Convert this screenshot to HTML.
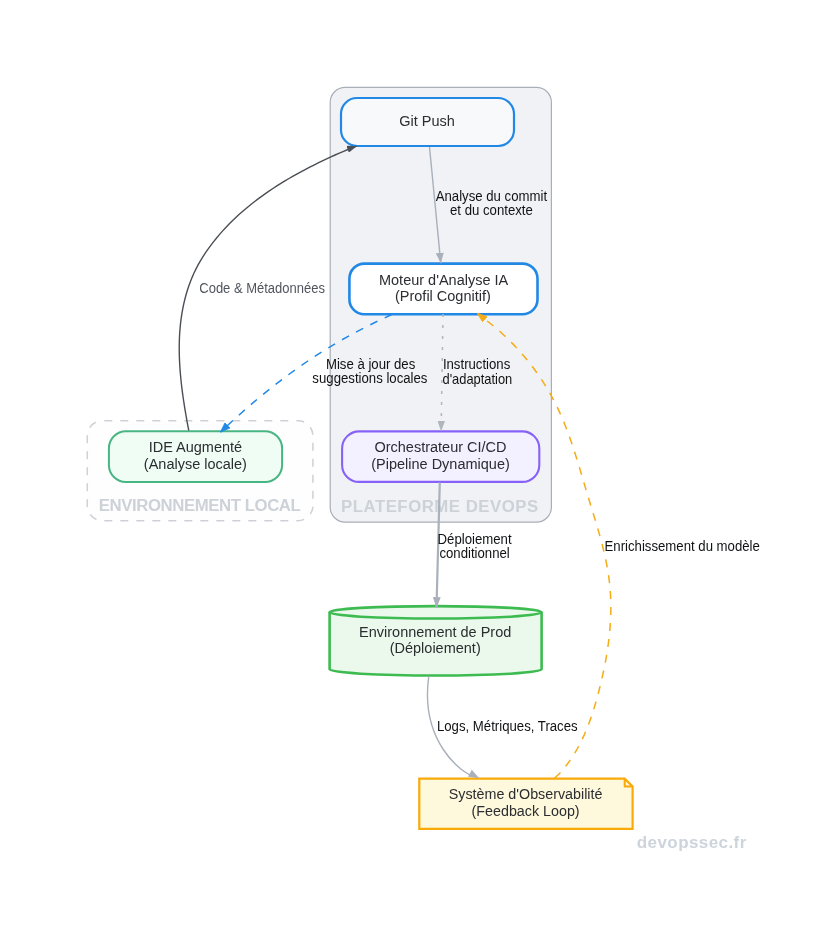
<!DOCTYPE html>
<html><head><meta charset="utf-8">
<style>
html,body{margin:0;padding:0;background:#ffffff;}
svg{display:block;will-change:transform;}
text{font-family:"Liberation Sans",sans-serif;}
.n{font-size:14.5px;fill:#2b2d31;text-anchor:middle;}
.l{font-size:13.2px;fill:#111214;text-anchor:middle;}
.c{font-size:16px;font-weight:bold;fill:#cdd2d9;}
</style></head>
<body>
<svg width="836" height="935" viewBox="0 0 836 935">
<defs>
<marker id="mg" viewBox="0 0 10 10" refX="10" refY="5" markerUnits="userSpaceOnUse" markerWidth="10.5" markerHeight="8" preserveAspectRatio="none" orient="auto"><path d="M0,0 L10,5 L0,10 z" fill="#a9b0ba"/></marker>
<marker id="mg2" viewBox="0 0 10 10" refX="10" refY="5" markerUnits="userSpaceOnUse" markerWidth="10.5" markerHeight="7.4" preserveAspectRatio="none" orient="auto"><path d="M0,0 L10,5 L0,10 z" fill="#b0b6be"/></marker>
<marker id="md" viewBox="0 0 10 10" refX="10" refY="5" markerUnits="userSpaceOnUse" markerWidth="9.5" markerHeight="7.2" preserveAspectRatio="none" orient="auto"><path d="M0,0 L10,5 L0,10 z" fill="#4a4e55"/></marker>
<marker id="mb" viewBox="0 0 10 10" refX="10" refY="5" markerUnits="userSpaceOnUse" markerWidth="10" markerHeight="7.4" preserveAspectRatio="none" orient="auto"><path d="M0,0 L10,5 L0,10 z" fill="#2288e6" stroke="#2288e6" stroke-width="0.8" stroke-linejoin="round"/></marker>
<marker id="mo" viewBox="0 0 10 10" refX="10" refY="5" markerUnits="userSpaceOnUse" markerWidth="10" markerHeight="7.2" preserveAspectRatio="none" orient="auto"><path d="M0,0 L10,5 L0,10 z" fill="#f5ab16" stroke="#f5ab16" stroke-width="0.8" stroke-linejoin="round"/></marker>
</defs>

<!-- clusters -->
<rect x="330.2" y="87.4" width="221.2" height="434.7" rx="15" ry="15" fill="#f1f2f5" stroke="#a8afb8" stroke-width="1.2"/>
<rect x="87.3" y="420.7" width="225.6" height="100" rx="15" ry="15" fill="#fefefe" stroke="#cdd1d7" stroke-width="1.5" stroke-dasharray="8 8" stroke-dashoffset="-2"/>
<text class="c" x="341.1" y="512.1" textLength="197" style="font-size:16.8px" lengthAdjust="spacing">PLATEFORME DEVOPS</text>
<text class="c" x="98.8" y="511.1" textLength="202" style="font-size:16.8px" lengthAdjust="spacing">ENVIRONNEMENT LOCAL</text>

<!-- nodes -->
<rect x="341" y="98" width="173" height="48" rx="16" ry="16" fill="#f8f9fb" stroke="#2288e6" stroke-width="2.2"/>
<text class="n" x="427.1" y="119.714" transform="scale(1,1.05)">Git Push</text>

<rect x="349.4" y="263.6" width="188.1" height="50.6" rx="15" ry="15" fill="#ffffff" stroke="#2288e6" stroke-width="2.6"/>
<text class="n" x="443.6" y="271.238" transform="scale(1,1.05)">Moteur d'Analyse IA</text>
<text class="n" x="442.9" y="286.571" transform="scale(1,1.05)">(Profil Cognitif)</text>

<rect x="342.1" y="431.4" width="197.2" height="50.5" rx="17" ry="17" fill="#f3f0ff" stroke="#8662f8" stroke-width="2.1"/>
<text class="n" x="440.5" y="430.571" transform="scale(1,1.05)">Orchestrateur CI/CD</text>
<text class="n" x="440.5" y="446.571" transform="scale(1,1.05)">(Pipeline Dynamique)</text>

<rect x="108.9" y="431.2" width="173.2" height="50.7" rx="17" ry="17" fill="#effdf4" stroke="#48b682" stroke-width="2.0"/>
<text class="n" x="195.4" y="430.762" transform="scale(1,1.05)">IDE Augmenté</text>
<text class="n" x="195.4" y="446.762" transform="scale(1,1.05)">(Analyse locale)</text>

<!-- cylinder -->
<path d="M329.6,612.3 A106,6.2 0 0 1 541.6,612.3 L541.6,669.3 A106,6.2 0 0 1 329.6,669.3 Z" fill="#eaf9ec" stroke="#3dbb50" stroke-width="2.6"/>
<path d="M329.6,612.3 A106,6.2 0 0 0 541.6,612.3" fill="none" stroke="#3dbb50" stroke-width="2.6"/>
<text class="n" x="435.2" y="606.286" transform="scale(1,1.05)">Environnement de Prod</text>
<text class="n" x="435.2" y="621.810" transform="scale(1,1.05)">(Déploiement)</text>

<!-- note -->
<path d="M419.3,778.6 L624.7,778.6 L632.6,786.5 L632.6,828.9 L419.3,828.9 Z" fill="#fef8dc" stroke="#f9aa08" stroke-width="2.2"/>
<path d="M624.7,778.6 L624.7,786.5 L632.6,786.5" fill="none" stroke="#f9aa08" stroke-width="2" stroke-linejoin="round"/>
<text class="n" x="525.6" y="761.048" transform="scale(1,1.05)" style="font-size:14.3px">Système d'Observabilité</text>
<text class="n" x="525.6" y="777.333" transform="scale(1,1.05)" style="font-size:14.3px">(Feedback Loop)</text>

<!-- edges -->
<path d="M188.80,430.50 L187.86,425.84 L187.03,421.31 L186.22,416.74 L185.44,412.16 L184.68,407.55 L183.95,402.91 L183.25,398.26 L182.60,393.60 L181.99,388.92 L181.43,384.22 L180.92,379.52 L180.48,374.80 L180.09,370.08 L179.77,365.36 L179.52,360.63 L179.34,355.90 L179.25,351.17 L179.24,346.45 L179.31,341.73 L179.48,337.02 L179.75,332.32 L180.12,327.62 L180.59,322.95 L181.18,318.28 L181.88,313.64 L182.70,309.01 L183.64,304.41 L184.71,299.84 L185.90,295.30 L187.23,290.80 L188.69,286.35 L190.28,281.95 L192.02,277.60 L193.90,273.32 L195.92,269.10 L198.09,264.96 L200.40,260.88 L202.83,256.88 L205.38,252.95 L208.04,249.09 L210.80,245.31 L213.65,241.59 L216.58,237.95 L219.60,234.37 L222.69,230.87 L225.86,227.43 L229.11,224.06 L232.43,220.76 L235.82,217.52 L239.27,214.35 L242.79,211.24 L246.37,208.19 L250.00,205.21 L253.69,202.28 L257.44,199.41 L261.24,196.61 L265.08,193.86 L268.97,191.16 L272.90,188.53 L276.87,185.94 L280.88,183.42 L284.92,180.94 L288.99,178.52 L293.09,176.14 L297.22,173.82 L301.38,171.55 L305.55,169.32 L309.74,167.14 L313.95,165.01 L318.16,162.93 L322.39,160.88 L326.63,158.88 L330.87,156.93 L335.12,155.01 L339.36,153.14 L343.60,151.30 L347.83,149.51 L352.06,147.75 L356.70,146.20" fill="none" stroke="#4a4e55" stroke-width="1.4" marker-end="url(#md)"/>
<path d="M429.5,147 L440.8,263.3" fill="none" stroke="#a9b0ba" stroke-width="1.4" marker-end="url(#mg)"/>
<path d="M391.8,314.5 C349.2,334.1 294.5,362.0 220.3,432.2" fill="none" stroke="#2288e6" stroke-width="1.45" stroke-dasharray="8 8" marker-end="url(#mb)"/>
<path d="M443,314 L441.1,431.5" fill="none" stroke="#b0b6be" stroke-width="1.5" stroke-dasharray="3 8" marker-end="url(#mg2)"/>
<path d="M439.8,482.5 L436.5,607.7" fill="none" stroke="#aab1bb" stroke-width="2.2" marker-end="url(#mg)"/>
<path d="M428.8,676.2 C419.6,741.0 461.7,774.1 475,776.5" fill="none" stroke="#a9b0ba" stroke-width="1.4"/>
<polygon points="479.2,778.2 468.05,776.81 471.81,769.75" fill="#a9b0ba"/>
<path d="M554.70,778.00 L559.06,774.03 L562.95,769.62 L566.59,765.09 L570.01,760.42 L573.20,755.63 L576.18,750.74 L578.97,745.73 L581.57,740.63 L584.00,735.43 L586.27,730.16 L588.40,724.81 L590.38,719.38 L592.25,713.90 L594.01,708.37 L595.67,702.79 L597.25,697.17 L598.75,691.52 L600.19,685.85 L601.56,680.15 L602.85,674.44 L604.07,668.71 L605.21,662.96 L606.26,657.20 L607.21,651.43 L608.06,645.65 L608.81,639.87 L609.45,634.08 L609.98,628.29 L610.39,622.51 L610.67,616.72 L610.82,610.95 L610.84,605.17 L610.71,599.41 L610.44,593.67 L610.02,587.93 L609.45,582.22 L608.72,576.52 L607.84,570.84 L606.83,565.17 L605.69,559.52 L604.45,553.88 L603.10,548.25 L601.67,542.63 L600.16,537.02 L598.58,531.42 L596.96,525.81 L595.29,520.22 L593.60,514.62 L591.88,509.02 L590.17,503.42 L588.45,497.82 L586.76,492.22 L585.09,486.61 L583.42,481.00 L581.76,475.39 L580.09,469.79 L578.41,464.21 L576.70,458.64 L574.95,453.09 L573.15,447.56 L571.30,442.06 L569.39,436.60 L567.40,431.17 L565.33,425.78 L563.16,420.44 L560.89,415.14 L558.51,409.90 L556.01,404.71 L553.38,399.58 L550.63,394.52 L547.75,389.52 L544.74,384.59 L541.62,379.72 L538.38,374.94 L535.02,370.22 L531.55,365.58 L527.96,361.02 L524.27,356.55 L520.47,352.16 L516.56,347.85 L512.55,343.63 L508.44,339.51 L504.22,335.48 L499.92,331.55 L495.51,327.71 L491.02,323.98 L486.43,320.35 L481.76,316.83 L477.30,313.20" fill="none" stroke="#f5ab16" stroke-width="1.5" stroke-dasharray="8 8" marker-end="url(#mo)"/>

<!-- edge labels -->
<text class="l" x="491.4" y="186.111" transform="scale(1,1.08)">Analyse du commit</text>
<text class="l" x="491.4" y="199.537" transform="scale(1,1.08)">et du contexte</text>
<text class="l" x="262.1" y="271.019" transform="scale(1,1.08)" style="fill:#50555e;font-size:13px">Code &amp; Métadonnées</text>
<text class="l" x="370.6" y="341.667" transform="scale(1,1.08)">Mise à jour des</text>
<text class="l" x="369.9" y="355.000" transform="scale(1,1.08)">suggestions locales</text>
<text class="l" x="476.6" y="341.481" transform="scale(1,1.08)">Instructions</text>
<text class="l" x="477.4" y="355.370" transform="scale(1,1.08)" style="font-size:12.9px">d'adaptation</text>
<text class="l" x="474.6" y="503.333" transform="scale(1,1.08)">Déploiement</text>
<text class="l" x="474.6" y="516.481" transform="scale(1,1.08)">conditionnel</text>
<text class="l" x="507.3" y="676.759" transform="scale(1,1.08)">Logs, Métriques, Traces</text>
<text class="l" x="682.2" y="510.093" transform="scale(1,1.08)">Enrichissement du modèle</text>

<text class="c" x="636.8" y="848.2" textLength="109.5" lengthAdjust="spacing" style="fill:#cdd4dc;font-size:17px">devopssec.fr</text>
</svg>
</body></html>
